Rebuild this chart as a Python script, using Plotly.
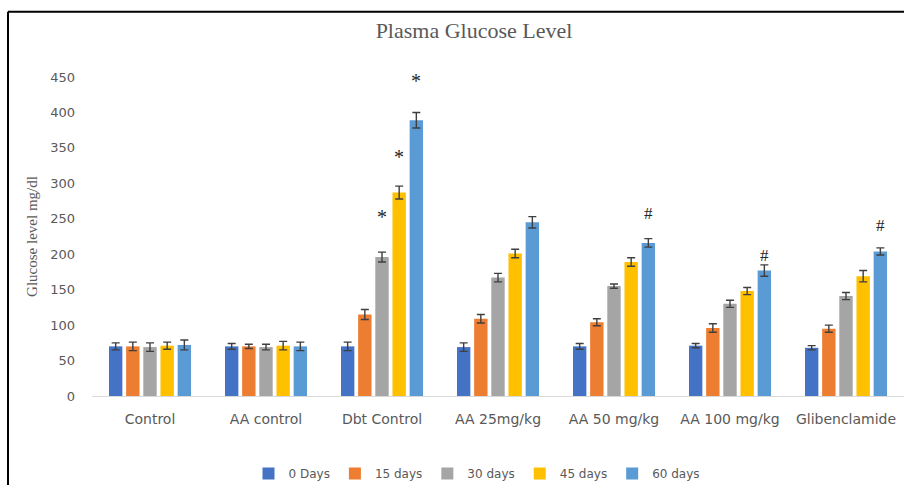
import plotly.graph_objects as go

# Treatment groups along the x axis
groups = ["Control", "AA control", "Dbt Control", "AA 25mg/kg",
          "AA 50 mg/kg", "AA 100 mg/kg", "Glibenclamide"]

# Sampling days (one series each)
series_names = ["0 Days", "15 days", "30 days", "45 days", "60 days"]

# Mean plasma glucose (mg/dl) per group, per sampling day
glucose_0 = [70, 70, 70, 69, 70, 71, 68]
glucose_15 = [70, 70, 115, 109, 104, 96, 95]
glucose_30 = [69, 69, 196, 167, 155, 130, 141]
glucose_45 = [71, 71, 287, 201, 189, 148, 169]
glucose_60 = [72, 70, 389, 245, 216, 177, 204]

# Standard error per group, per sampling day
err_0 = [5, 4, 6, 6, 4, 3, 3]
err_15 = [6, 3, 7, 6, 5, 6, 5]
err_30 = [6, 4, 7, 6, 3, 5, 5]
err_45 = [5, 6, 9, 6, 6, 5, 8]
err_60 = [7, 6, 11, 8, 6, 8, 5]

# Significance marks: (group index, series index, symbol)
sig_marks = [(2, 2, "*"), (2, 3, "*"), (2, 4, "*"),
             (4, 4, "#"), (5, 4, "#"), (6, 4, "#")]

colors = ["#4472C4", "#ED7D31", "#A5A5A5", "#FFC000", "#5B9BD5"]
values = [glucose_0, glucose_15, glucose_30, glucose_45, glucose_60]
errors = [err_0, err_15, err_30, err_45, err_60]

BARGAP = 0.26
fig = go.Figure()
for name, vals, errs, col in zip(series_names, values, errors, colors):
    fig.add_trace(go.Bar(
        x=groups, y=vals, name=name,
        marker=dict(color=col, line=dict(width=0)),
        error_y=dict(type="data", array=errs, visible=True,
                     color="#3f3f3f", thickness=1.4, width=4),
    ))

# gap above each error bar (pixels) for the significance symbols
mark_gaps = [30, 24, 26, 22, 6, 19]
n_series = len(series_names)
slot = (1 - BARGAP) / n_series
annotations = []
for (gi, si, sym), gap in zip(sig_marks, mark_gaps):
    top = values[si][gi] + errors[si][gi]
    annotations.append(dict(
        x=gi + (si - (n_series - 1) / 2) * slot, y=top, xref="x", yref="y",
        text=sym, showarrow=False, yanchor="bottom", yshift=gap - 8,
        font=dict(family="Liberation Serif", size=20 if sym == "*" else 17,
                  color="#262626"),
    ))

# frame lines along the top and left edges of the figure
L, R, T, B = 92, 904, 77, 400
pw, ph = R - L, B - T
def px_x(p):
    return (p - L) / pw
def px_y(p):
    return (B - p) / ph
shapes = [
    dict(type="line", xref="paper", yref="paper", x0=px_x(8), x1=px_x(906),
         y0=px_y(11), y1=px_y(11), line=dict(color="black", width=2)),
    dict(type="line", xref="paper", yref="paper", x0=px_x(8), x1=px_x(8),
         y0=px_y(11), y1=px_y(490), line=dict(color="black", width=2)),
]

fig.update_layout(
    width=904, height=488,
    margin=dict(l=L, r=904 - R, t=T, b=488 - B),
    paper_bgcolor="white", plot_bgcolor="white",
    barmode="group", bargap=BARGAP, bargroupgap=0.22,
    title=dict(text="Plasma Glucose Level", x=474 / 904, xanchor="center",
               y=1 - 30 / 488, yanchor="middle", xref="container", yref="container",
               font=dict(family="Liberation Serif", size=22, color="#595959")),
    xaxis=dict(showgrid=False, showline=True, linecolor="#d9d9d9", linewidth=1,
               ticks="", tickfont=dict(family="DejaVu Sans", size=14, color="#595959"),
               ticklabelstandoff=10),
    yaxis=dict(range=[0, 450], dtick=50, showgrid=False, zeroline=False,
               showline=False, ticks="", ticklabelstandoff=16,
               tickfont=dict(family="DejaVu Sans", size=13, color="#595959"),
               title=dict(text="Glucose level mg/dl", standoff=8,
                          font=dict(family="Liberation Serif", size=15, color="#595959"))),
    legend=dict(orientation="h", x=px_x(477), xanchor="center",
                y=px_y(479), yanchor="middle",
                font=dict(family="DejaVu Sans", size=12, color="#595959"),
                itemwidth=30),
    annotations=annotations,
    shapes=shapes,
    showlegend=True,
)

fig.write_html("out.html")
